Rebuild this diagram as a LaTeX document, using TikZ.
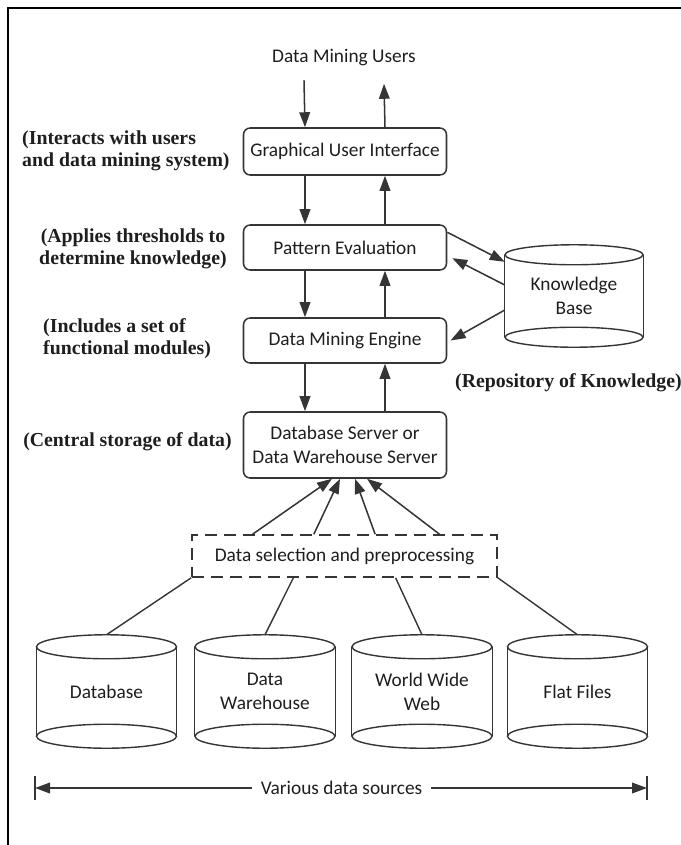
\documentclass[tikz,border=0pt]{standalone}
\usepackage{fontspec}
\setmainfont{Carlito}
\newfontfamily\notefont{Liberation Serif}
\usepackage{tikz}
\usetikzlibrary{arrows.meta,calc}
\definecolor{linegray}{HTML}{353535}
\definecolor{inkgray}{HTML}{1E1E1E}
\tikzset{
  box/.style   = {draw=linegray, line width=1.3pt, rounded corners=2mm,
                  minimum width=60.9mm, inner sep=0pt, align=center},
  selbox/.style= {draw=linegray, line width=1.3pt, dash pattern=on 3.6mm off 2.1mm,
                  minimum width=91.5mm, minimum height=12.6mm, inner sep=0pt},
  store/.style = {minimum width=42mm, minimum height=33.9mm, inner sep=0pt, align=center},
  note/.style  = {font=\notefont\bfseries\fontsize{16.9}{19}\selectfont, inner sep=0pt},
  sig/.style   = {-{Triangle[length=4.5mm,width=3.2mm]}, line width=1.3pt, draw=linegray},
  link/.style  = {line width=1.2pt, draw=linegray},
  cyl/.style   = {line width=1.2pt, draw=linegray},
}

\begin{document}
\begin{tikzpicture}[x=0.3mm,y=-0.3mm,text=inkgray,font=\fontsize{16.5}{20.5}\selectfont]
\useasboundingbox (0,0) rectangle (681,845);
\draw[line width=2pt] (681,8) -- (8,8) -- (8,845);

% main column
\node (users) at (344,58) {Data Mining Users};
\node[box,minimum height=14.1mm] (gui) at (345,151.5) {Graphical User Interface};
\node[box,minimum height=13.5mm] (pe) at (345,247.5) {Pattern Evaluation};
\node[box,minimum height=13.5mm] (dme) at (345,340.5) {Data Mining Engine};
\node[box,minimum height=19.8mm] (dbs) at (345,445) {Database Server or\\Data Warehouse Server};
\node[selbox] (sel) at (344.5,556) {Data selection and preprocessing};

% notes on the left
\node[note,anchor=west,align=left] (guinote) at (22,151) {(Interacts with users\\and data mining system)};
\node[note,align=center] (penote) at (133,248.5) {(Applies thresholds to\\determine knowledge)};
\node[note,anchor=west,align=left] (dmenote) at (43,339) {(Includes a set of\\functional modules)};
\node[note] (dbsnote) at (127.5,442) {(Central storage of data)};

% knowledge base
\node[store,minimum width=41.4mm,minimum height=30.6mm] (kb) at (574,296) {Knowledge\\Base};
\node[note,anchor=east] (kbnote) at (682,383) {(Repository of Knowledge)};
\draw[cyl] ([yshift=-3mm]kb.north) ellipse [x radius=20.7mm, y radius=3mm];
\draw[cyl] ([yshift=3mm]kb.south) ellipse [x radius=20.7mm, y radius=3mm];
\draw[cyl] ([yshift=-3mm]kb.north west) -- ([yshift=3mm]kb.south west);
\draw[cyl] ([yshift=-3mm]kb.north east) -- ([yshift=3mm]kb.south east);

% data sources
\node[store] (db) at (106.5,691.5) {Database};
\node[store] (dw) at (265,691.5) {Data\\Warehouse};
\node[store] (www) at (422,691.5) {World Wide\\Web};
\node[store] (ff) at (577.5,691.5) {Flat Files};
\foreach \n in {db,dw,www,ff}{
  \draw[cyl] ([yshift=-3.6mm]\n.north) ellipse [x radius=21mm, y radius=3.6mm];
  \draw[cyl] ([yshift=3.6mm]\n.south) ellipse [x radius=21mm, y radius=3.6mm];
  \draw[cyl] ([yshift=-3.6mm]\n.north west) -- ([yshift=3.6mm]\n.south west);
  \draw[cyl] ([yshift=-3.6mm]\n.north east) -- ([yshift=3.6mm]\n.south east);
}

% flow between layers
\draw[sig] ([xshift=-12mm,yshift=-3mm]users.south) -- ([xshift=-12mm]gui.north);
\draw[sig] ([xshift=12mm]gui.north) -- ([xshift=12mm,yshift=-4mm]users.south);
\draw[sig] ([xshift=-12mm]gui.south) -- ([xshift=-12mm]pe.north);
\draw[sig] ([xshift=12mm]pe.north) -- ([xshift=12mm]gui.south);
\draw[sig] ([xshift=-12mm]pe.south) -- ([xshift=-12mm]dme.north);
\draw[sig] ([xshift=12mm]dme.north) -- ([xshift=12mm]pe.south);
\draw[sig] ([xshift=-12mm]dme.south) -- ([xshift=-12mm]dbs.north);
\draw[sig] ([xshift=12mm]dbs.north) -- ([xshift=12mm]dme.south);

\draw[sig] ([yshift=-2.4mm]pe.north east) -- ([yshift=-5.1mm]kb.north west);
\draw[sig] ([yshift=3.3mm]kb.west) -- ([yshift=-3.2mm,xshift=1.5mm]pe.east);
\draw[sig] ([yshift=-4.2mm]kb.west) -- ([xshift=1mm]dme.east);

\foreach \f/\s in {0.2/-3.9mm,0.4/-1.5mm,0.6/3mm,0.81/6.6mm}
  \draw[sig] ($(sel.north west)!\f!(sel.north east)$) -- ([xshift=\s]dbs.south);

\draw[link] (sel.south west) -- (db.north);
\draw[link] ($(sel.south west)!1/3!(sel.south east)$) -- (dw.north);
\draw[link] ($(sel.south west)!2/3!(sel.south east)$) -- (www.north);
\draw[link] (sel.south east) -- (ff.north);

% span of the sources
\node[inner xsep=2.5mm] (src) at (341.5,788) {Various data sources};
\coordinate (lend) at (35,788);
\coordinate (rend) at (647,788);
\draw[sig] (src.west) -- (lend);
\draw[sig] (src.east) -- (rend);
\draw[link] ([yshift=3.6mm]lend) -- ([yshift=-3.6mm]lend);
\draw[link] ([yshift=3.6mm]rend) -- ([yshift=-3.6mm]rend);
\end{tikzpicture}
\end{document}
